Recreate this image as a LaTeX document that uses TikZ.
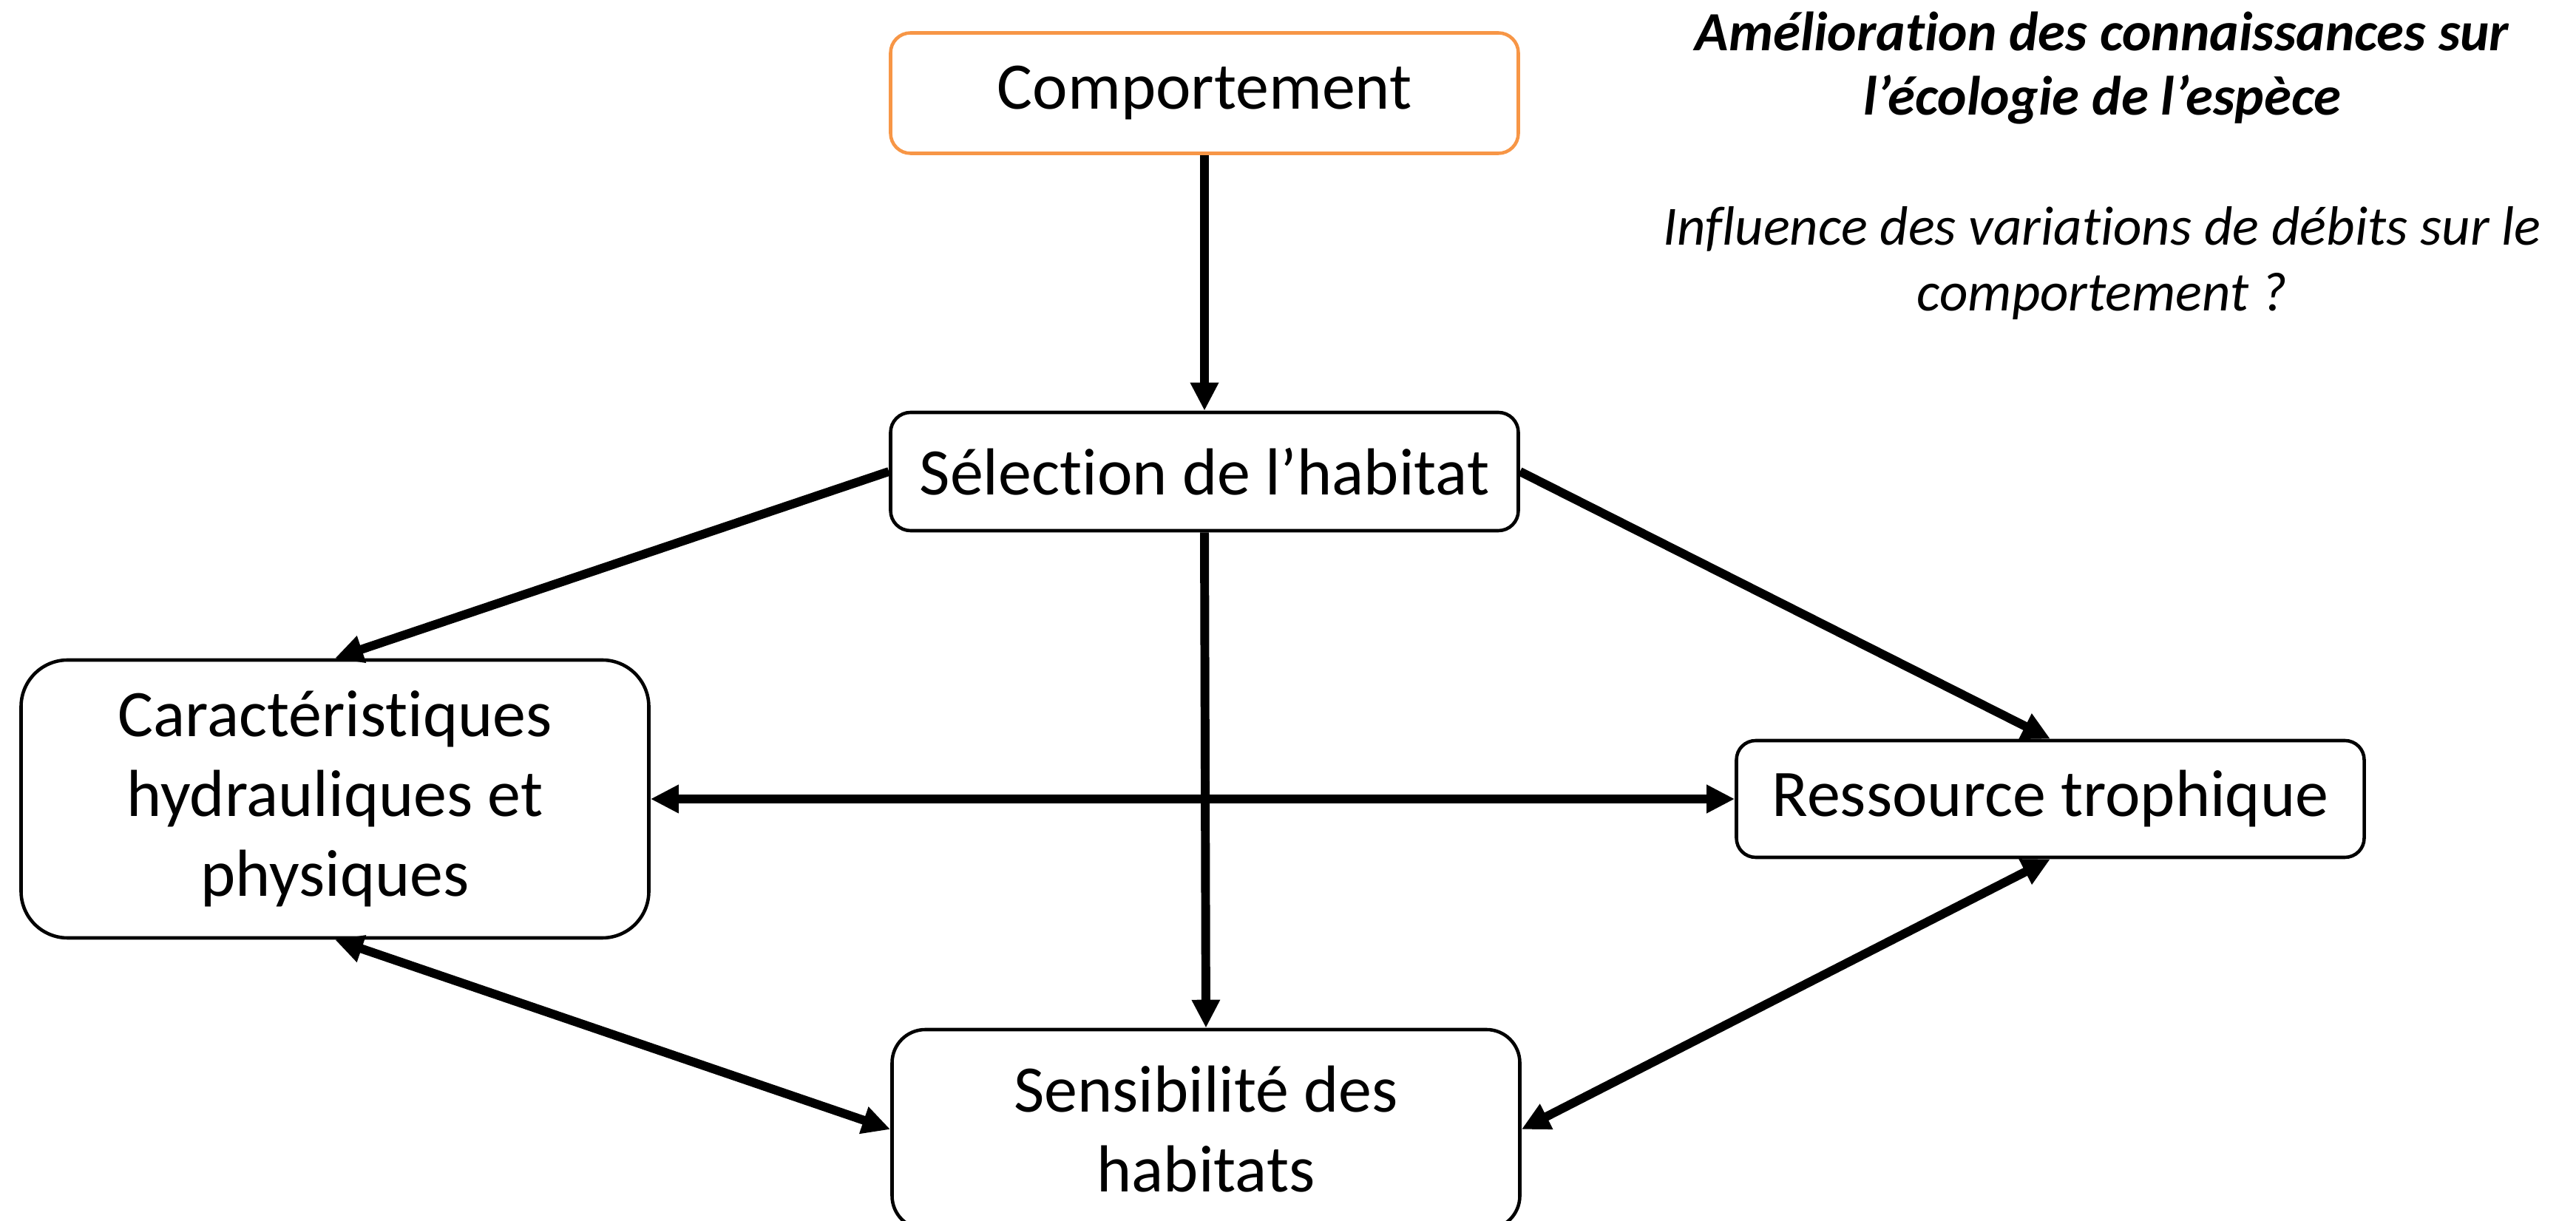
\documentclass[tikz,border=0pt]{standalone}
\usepackage{fontspec}
\setmainfont[Ligatures=CommonOff]{Carlito}
\usetikzlibrary{arrows.meta}
\definecolor{boxorange}{HTML}{F79646}

\begin{document}
\begin{tikzpicture}[
    box/.style={draw, line width=1.3pt, rectangle, minimum width=8.49cm, inner sep=0pt, align=center, font=\fontsize{25.6}{30.7}\selectfont},
    note/.style={align=center, inner sep=0pt, font=\fontsize{21.3}{25.2}\selectfont\itshape},
    link/.style={-{Triangle[length=0.38cm, width=0.36cm]}, line width=3.4pt},
    dbl/.style={{Triangle[length=0.38cm, width=0.36cm]}-{Triangle[length=0.38cm, width=0.36cm]}, line width=3.4pt}
]
    \useasboundingbox (0,0) rectangle (34.84,16.51);

    \node [box, draw=boxorange, minimum height=1.63cm, rounded corners=0.27cm] (comp) at (16.29,15.25) {Comportement};
    \node [box, minimum height=1.60cm, rounded corners=0.27cm] (sel) at (16.29,10.13) {Sélection de l’habitat};
    \node [box, minimum height=3.76cm, rounded corners=0.63cm] (car) at (4.53,5.70) {Caractéristiques\\hydrauliques et\\physiques};
    \node [box, minimum height=1.58cm, rounded corners=0.26cm] (res) at (27.73,5.70) {Ressource trophique};
    \node [box, minimum height=2.70cm, rounded corners=0.45cm] (sens) at (16.31,1.23) {Sensibilité des\\habitats};

    \node [note, font=\fontsize{21.3}{24.7}\selectfont\bfseries\itshape] (titre) at (28.43,15.59) {Amélioration des connaissances sur\\l’écologie de l’espèce};
    \node [note] (question) at (28.43,12.95) {Influence des variations de débits sur le\\comportement ?};

    \draw [link] (comp) -- (sel);
    \draw [link] (sel.west) -- (car.north);
    \draw [link] (sel.east) -- (res.north);
    \draw [link] (sel.south) -- (sens.north);
    \draw [dbl] (car.east) -- (res.west);
    \draw [dbl] (car.south) -- (sens.west);
    \draw [dbl] (res.south) -- (sens.east);
\end{tikzpicture}
\end{document}
